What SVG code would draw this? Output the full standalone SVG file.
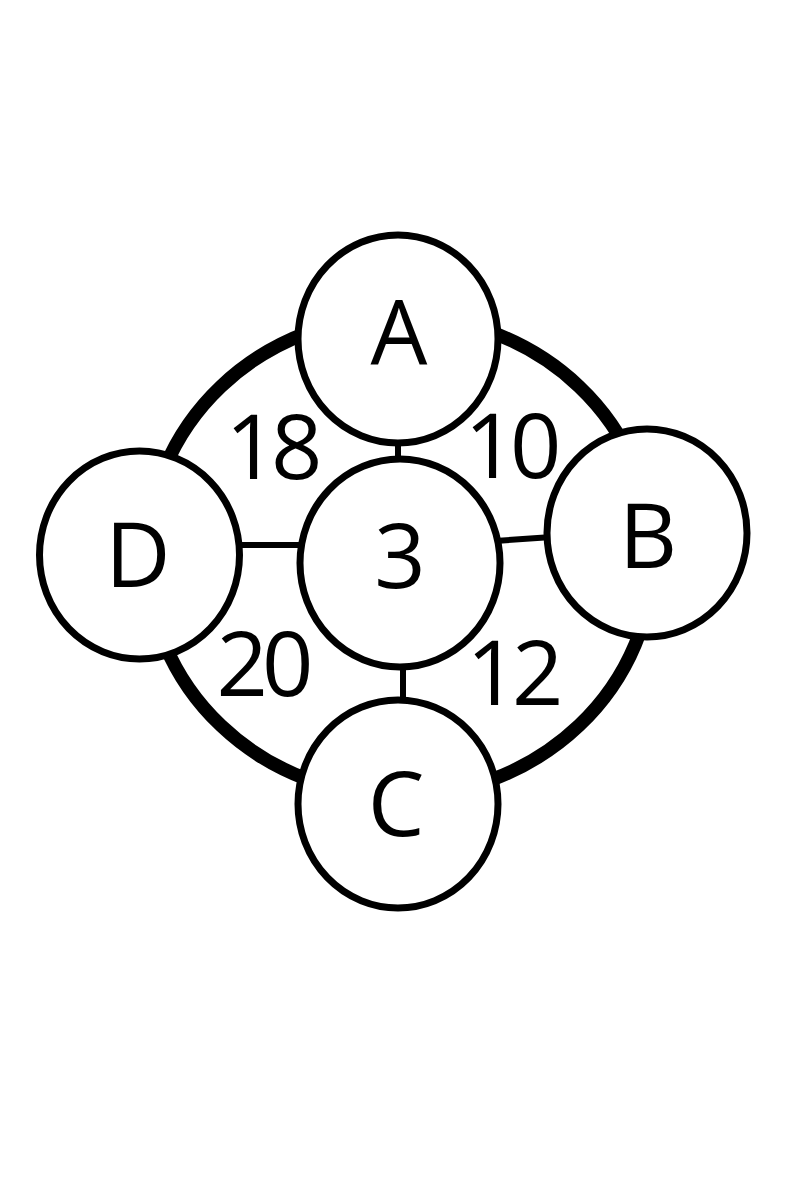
<svg xmlns="http://www.w3.org/2000/svg" width="800" height="1200" viewBox="0 0 800 1200">
<style>
.node{fill:#fff;stroke:#000;stroke-width:7}
.lbl{font-family:"Open Sans","Liberation Sans",sans-serif;font-size:90px;fill:#000;text-anchor:middle}
.num{letter-spacing:-6px}
.edge{stroke:#000;stroke-width:6;fill:none}
</style>
<rect width="800" height="1200" fill="#fff"/>
<g id="connectors">
<ellipse cx="400" cy="556" rx="253" ry="240" fill="none" stroke="#000" stroke-width="13.5"/>
<line class="edge" x1="398" y1="440" x2="398" y2="460"/>
<line class="edge" x1="403" y1="665" x2="403" y2="702"/>
<line class="edge" x1="238" y1="545" x2="302" y2="545"/>
<line class="edge" x1="495" y1="541" x2="552" y2="537"/>
<text class="lbl num" x="271" y="479">18</text>
<text class="lbl num" x="510" y="478">10</text>
<text class="lbl num" x="262" y="696">20</text>
<text class="lbl num" x="512" y="705">12</text>
</g>
<g id="node-A"><ellipse class="node" cx="398" cy="339" rx="100" ry="104"/><text class="lbl" x="399" y="364">A</text></g>
<g id="node-D"><ellipse class="node" cx="139.5" cy="555" rx="100" ry="104"/><text class="lbl" x="138" y="587">D</text></g>
<g id="node-B"><ellipse class="node" cx="647" cy="533" rx="100" ry="104"/><text class="lbl" x="648" y="568">B</text></g>
<g id="node-C"><ellipse class="node" cx="398" cy="804" rx="100" ry="104"/><text class="lbl" x="396" y="836">C</text></g>
<g id="node-center"><ellipse class="node" cx="400" cy="563" rx="100" ry="104"/><text class="lbl" x="400" y="588">3</text></g>
</svg>
